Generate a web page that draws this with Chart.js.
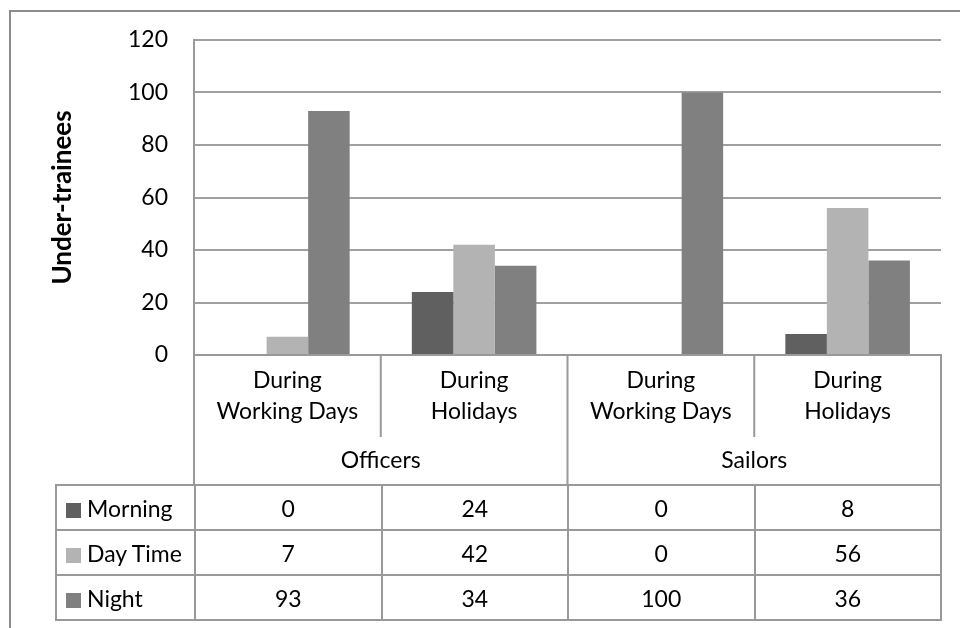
<!DOCTYPE html>
<html lang="en">
<head>
<meta charset="UTF-8">
<title>Under-trainees</title>
<script src="https://cdn.jsdelivr.net/npm/chart.js"></script>
<style>
    body { margin: 0; background: #fff; font-family: Lato, sans-serif; color: #000; }
    #wrap { position: relative; width: 960px; height: 628px; overflow: hidden; }
    #frame { position: absolute; left: 9px; top: 10px; width: 1000px; height: 700px; border: 2px solid #8c8c8c; }
    canvas { position: absolute; left: 0; top: 0; }
    #tbl { position: absolute; left: 55px; top: 484px; width: 887px; border-collapse: collapse; table-layout: fixed; font-size: 23px; }
    #tbl td { border: 2px solid #999; padding: 0; text-align: center; white-space: nowrap; }
    #tbl tr { height: 45px; }
    #tbl td.name { text-align: left; padding-left: 9px; }
    .key { display: inline-block; width: 15px; height: 15px; margin-right: 6px; vertical-align: -1px; }
</style>
</head>
<body>
<div id="wrap">
    <div id="frame"></div>
    <canvas id="chart" width="960" height="628"></canvas>
    <table id="tbl">
        <colgroup><col style="width:139px"><col><col><col><col></colgroup>
        <tbody id="tbody"></tbody>
    </table>
</div>
<script>
    // categories and groups
    const categories = [['During', 'Working Days'], ['During', 'Holidays'], ['During', 'Working Days'], ['During', 'Holidays']];
    const groups = ['Officers', 'Sailors'];
    const seriesNames = ['Morning', 'Day Time', 'Night'];
    const seriesColors = ['#606060', '#b3b3b3', '#808080'];

    // values
    const morning = [0, 24, 0, 8];
    const dayTime = [7, 42, 0, 56];
    const night = [93, 34, 100, 36];
    const seriesValues = [morning, dayTime, night];

    // y axis
    const yMin = 0, yMax = 120, yStep = 20;

    const lineColor = '#999';
    const fontFamily = 'Lato, sans-serif';

    // dividers under the axis + group labels
    const lowerAxis = {
        id: 'lowerAxis',
        afterDraw(chart) {
            const ctx = chart.ctx;
            const area = chart.chartArea;
            const w = (area.right - area.left) / categories.length;
            const labelBottom = 437, groupBottom = 485;
            ctx.save();
            ctx.strokeStyle = lineColor;
            ctx.lineWidth = 2;
            for (let i = 0; i <= categories.length; i++) {
                const x = area.left + i * w;
                const full = i % 2 === 0;
                ctx.beginPath();
                ctx.moveTo(x, area.bottom);
                ctx.lineTo(x, full ? groupBottom : labelBottom);
                ctx.stroke();
            }
            ctx.fillStyle = '#000';
            ctx.font = '23px ' + fontFamily;
            ctx.textAlign = 'center';
            ctx.textBaseline = 'middle';
            groups.forEach((g, i) => {
                ctx.fillText(g, area.left + (i * 2 + 1) * w, 461);
            });
            ctx.restore();
        }
    };

    new Chart(document.getElementById('chart'), {
        type: 'bar',
        data: {
            labels: categories,
            datasets: seriesNames.map((name, i) => ({
                label: name,
                data: seriesValues[i],
                backgroundColor: seriesColors[i],
                borderWidth: 0,
                categoryPercentage: 0.667,
                barPercentage: 1.0
            }))
        },
        options: {
            responsive: false,
            animation: false,
            layout: { autoPadding: false, padding: { left: 0, right: 19, top: 40, bottom: 0 } },
            plugins: { legend: { display: false }, tooltip: { enabled: false } },
            scales: {
                x: {
                    grid: { display: false, drawTicks: false },
                    border: { display: true, color: lineColor, width: 2 },
                    ticks: { color: '#000', padding: 10, maxRotation: 0, autoSkip: false,
                             font: { family: fontFamily, size: 23, lineHeight: 1.35 } },
                    afterFit(scale) { scale.height = 273; }
                },
                y: {
                    min: yMin, max: yMax,
                    ticks: { stepSize: yStep, color: '#000', padding: 26,
                             font: { family: fontFamily, size: 23 } },
                    grid: { color: '#a0a0a0', lineWidth: 2, drawTicks: false },
                    border: { display: true, color: lineColor, width: 2 },
                    title: { display: true, text: 'Under-trainees', color: '#000',
                             font: { family: fontFamily, size: 26, weight: 'bold' },
                             padding: { top: 47, bottom: 0 } },
                    afterFit(scale) { scale.width = 194; }
                }
            }
        },
        plugins: [lowerAxis]
    });

    // data table
    const tbody = document.getElementById('tbody');
    seriesNames.forEach((name, i) => {
        const tr = document.createElement('tr');
        const th = document.createElement('td');
        th.className = 'name';
        th.innerHTML = '<span class="key" style="background:' + seriesColors[i] + '"></span>' + name;
        tr.appendChild(th);
        seriesValues[i].forEach(v => {
            const td = document.createElement('td');
            td.textContent = v;
            tr.appendChild(td);
        });
        tbody.appendChild(tr);
    });
</script>
</body>
</html>
